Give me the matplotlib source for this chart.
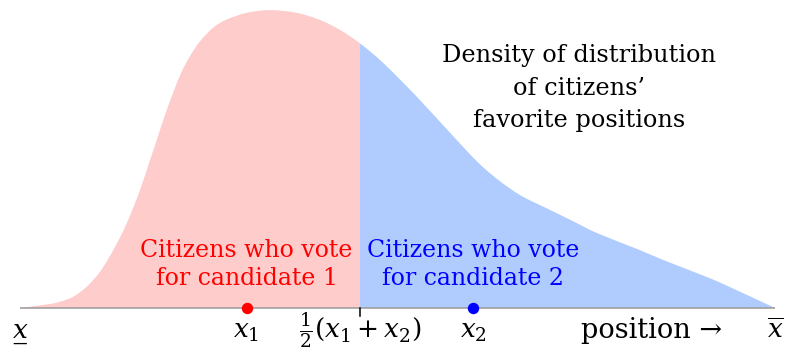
import numpy as np
import matplotlib
matplotlib.use("Agg")
import matplotlib.pyplot as plt
from matplotlib.path import Path
from matplotlib.patches import PathPatch, Rectangle

# ---- data ----
positions = np.array([0, 3.97, 5.3, 7.06, 8.83, 10.6, 12.36, 14.13, 15.89, 17.22, 18.11,
                      19.43, 21.19, 22.52, 23.84, 25.6, 27.4, 30.03, 33.11, 36.65, 39.74,
                      42.38, 45.03, 48.1, 52.6, 57.0, 61.3, 65.8, 70.2, 73.2, 76.4, 82.1,
                      85.2, 91.0, 94.0, 100])
density = np.array([0, 1.33, 2.1, 3.77, 7.1, 12.1, 19.33, 28.2, 39.33, 49.33, 56.0,
                    66.0, 77.5, 84.0, 88.9, 93.5, 96.2, 98.4, 99.3, 98.4, 96.0,
                    92.7, 88.2, 81.7, 70.3, 58.3, 47.0, 38.3, 32.7, 29.0, 25.0, 19.3,
                    16.0, 10.3, 7.0, 0])
candidate_positions = [30.0, 60.0]
candidate_colors = ["#FF0000", "#0000FF"]
fill_colors = ["#FFCCCC", "#B0CCFF"]
voter_labels = ["Citizens who vote\nfor candidate 1", "Citizens who vote\nfor candidate 2"]
density_label = "Density of distribution\nof citizens\u2019\nfavorite positions"
tick_labels = ["x\u0332", r"$x_1$", r"$\frac{1}{2}(x_1+x_2)$", r"$x_2$", r"$\overline{x}$"]
axis_label = "position \u2192"

plt.rcParams["font.family"] = ["DejaVu Serif"]
plt.rcParams["mathtext.fontset"] = "dejavuserif"

fig = plt.figure(figsize=(7.85, 3.49), dpi=100)
ax = fig.add_axes([0, 0, 1, 1])
ax.set_xlim(-2.649, 101.32)
ax.set_ylim(-13.67, 102.67)
ax.axis("off")

# smooth curve through the read points (Catmull-Rom rendered as Bezier path)
pts = np.column_stack([positions, density])
ext = np.vstack([pts[0], pts, pts[-1]])
verts = [tuple(pts[0])]
codes = [Path.MOVETO]
for i in range(1, len(ext) - 2):
    p0, p1, p2, p3 = ext[i - 1], ext[i], ext[i + 1], ext[i + 2]
    c1 = p1 + (p2 - p0) / 6.0
    c2 = p2 - (p3 - p1) / 6.0
    verts += [tuple(c1), tuple(c2), tuple(p2)]
    codes += [Path.CURVE4] * 3
verts.append(tuple(pts[0]))
codes.append(Path.CLOSEPOLY)
curve = Path(verts, codes)

mid = (candidate_positions[0] + candidate_positions[1]) / 2
bounds = [(positions[0] - 5, mid), (mid, positions[-1] + 5)]
for (a, b), fc in zip(bounds, fill_colors):
    patch = PathPatch(curve, facecolor=fc, edgecolor="none", lw=0, zorder=1)
    ax.add_patch(patch)
    clip = Rectangle((a, -20), b - a, 140, transform=ax.transData)
    patch.set_clip_path(clip)

ax.plot([positions[0], positions[-1]], [0, 0], color="#999999", lw=1.1, zorder=2, solid_capstyle="butt")
ax.plot([mid, mid], [0, -2.7], color="black", lw=1.1, zorder=3)

for xc, c in zip(candidate_positions, candidate_colors):
    ax.plot(xc, 0, "o", ms=8.2, color=c, mec="none", zorder=4)

for xc, c, lab in zip(candidate_positions, candidate_colors, voter_labels):
    ax.text(xc, 14.5, lab, color=c, ha="center", va="center", fontsize=17, linespacing=1.27, zorder=5)

ax.text(74.0, 73.3, density_label, color="black", ha="center", va="center", fontsize=17.3,
        linespacing=1.52, zorder=5)

tick_x = [positions[0], candidate_positions[0], mid, candidate_positions[1], positions[-1]]
for i, (xt, lab) in enumerate(zip(tick_x, tick_labels)):
    ax.text(xt, -10, lab, ha="center", va="baseline", fontsize=19, zorder=5,
            fontstyle="italic" if i == 0 else "normal")
ax.text(83.6, -10, axis_label, ha="center", va="baseline", fontsize=19.5, zorder=5)

fig.savefig("out.png", dpi=100)
